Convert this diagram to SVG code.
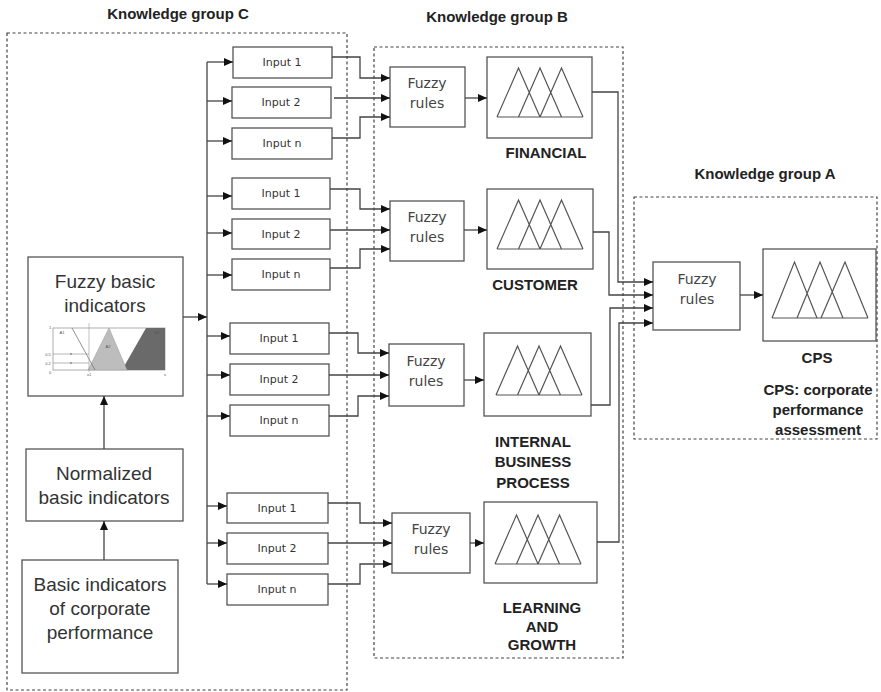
<svg xmlns="http://www.w3.org/2000/svg" width="881" height="692" viewBox="0 0 881 692">
<style>
.box{fill:#fff;stroke:#555;stroke-width:1.3}
.grp{fill:none;stroke:#444;stroke-width:1.2;stroke-dasharray:3,2.5}
.ln{fill:none;stroke:#444;stroke-width:1.3}
.arr{marker-end:url(#ah)}
.tri{fill:none;stroke:#555;stroke-width:1.2}
.title{font-family:"Liberation Sans",Arial,sans-serif;font-weight:bold;font-size:15px;fill:#222;text-anchor:middle}
.lab{font-family:"Liberation Sans",Arial,sans-serif;font-weight:bold;font-size:15px;fill:#222;text-anchor:middle}
.big{font-family:"Liberation Sans",Arial,sans-serif;font-size:19px;fill:#333;text-anchor:middle}
.inp{font-family:"DejaVu Sans",Verdana,sans-serif;font-size:11px;fill:#333;text-anchor:middle}
.fr{font-family:"DejaVu Sans",Verdana,sans-serif;font-size:14px;fill:#444;text-anchor:middle}
.tiny{font-family:"Liberation Sans",Arial,sans-serif;font-size:4px;fill:#555;text-anchor:middle}
</style>
<defs>
<marker id="ah" markerUnits="userSpaceOnUse" markerWidth="10" markerHeight="9" refX="9" refY="4" orient="auto">
<path d="M0,0 L9,4 L0,8 z" fill="#111"/>
</marker>
<path id="tris" d="M0,49 L21.5,0 L43,49 M21.5,49 L43,0 L64.5,49 M43,49 L64.5,0 L86,49 M0,49 H86" class="tri"/>
</defs>
<rect width="881" height="692" fill="#fff"/>

<!-- knowledge groups -->
<g id="group-C">
<rect class="grp" x="7" y="33" width="340" height="657"/>
<text class="title" x="178" y="19">Knowledge group C</text>
</g>
<g id="group-B">
<rect class="grp" x="374" y="47" width="249" height="611"/>
<text class="title" x="497" y="22">Knowledge group B</text>
</g>
<g id="group-A">
<rect class="grp" x="634" y="197" width="243" height="242"/>
<text class="title" x="765" y="179">Knowledge group A</text>
</g>

<!-- left column -->
<g id="basic-indicators">
<rect class="box" x="22" y="560" width="156" height="113"/>
<text class="big" x="100" y="591">Basic indicators</text>
<text class="big" x="100" y="615">of corporate</text>
<text class="big" x="100" y="639">performance</text>
</g>
<g id="normalized">
<rect class="box" x="26" y="449" width="157" height="72"/>
<text class="big" x="104" y="480">Normalized</text>
<text class="big" x="104" y="504">basic indicators</text>
</g>
<g id="fuzzy-basic">
<rect class="box" x="28" y="257" width="155" height="139"/>
<text class="big" x="105" y="288" font-size="20">Fuzzy basic</text>
<text class="big" x="105" y="312" font-size="20">indicators</text>
<rect x="53" y="328" width="112" height="42" fill="#fff" stroke="#999" stroke-width="0.8"/>
<polygon points="122,370 146,328 165,328 165,370" fill="#6a6a6a"/>
<polygon points="88,370 109,328 127,370" fill="#bdbdbd" stroke="#999" stroke-width="0.5"/>
<line x1="72" y1="328" x2="95" y2="370" stroke="#777" stroke-width="0.8"/>
<line x1="89" y1="323" x2="89" y2="372" stroke="#999" stroke-width="0.6"/>
<line x1="53" y1="354" x2="89" y2="354" stroke="#888" stroke-width="0.6"/>
<line x1="53" y1="363" x2="89" y2="363" stroke="#888" stroke-width="0.6"/>
<circle cx="71" cy="354" r="0.8" fill="#555"/>
<circle cx="71" cy="363" r="0.8" fill="#555"/>
<text class="tiny" x="62" y="334">A1</text>
<text class="tiny" x="108" y="348">A2</text>
<text class="tiny" x="157" y="334">A3</text>
<text class="tiny" x="50" y="329">1</text>
<text class="tiny" x="48" y="356">0.5</text>
<text class="tiny" x="48" y="365">0.2</text>
<text class="tiny" x="50" y="374">0</text>
<text class="tiny" x="89" y="376">x1</text>
<text class="tiny" x="165" y="376">x</text>
</g>

<!-- inputs -->
<g id="g1-input1"><rect class="box" x="233" y="47" width="99" height="31"/><text class="inp" x="282" y="66">Input 1</text></g>
<g id="g1-input2"><rect class="box" x="232" y="87" width="99" height="31"/><text class="inp" x="281" y="106">Input 2</text></g>
<g id="g1-inputn"><rect class="box" x="232" y="128" width="100" height="31"/><text class="inp" x="282" y="147">Input n</text></g>

<g id="g2-input1"><rect class="box" x="232" y="178" width="98" height="31"/><text class="inp" x="281" y="197">Input 1</text></g>
<g id="g2-input2"><rect class="box" x="232" y="219" width="98" height="30"/><text class="inp" x="281" y="238">Input 2</text></g>
<g id="g2-inputn"><rect class="box" x="232" y="259" width="98" height="31"/><text class="inp" x="281" y="278">Input n</text></g>

<g id="g3-input1"><rect class="box" x="230" y="323" width="99" height="31"/><text class="inp" x="279" y="342">Input 1</text></g>
<g id="g3-input2"><rect class="box" x="230" y="364" width="99" height="31"/><text class="inp" x="279" y="383">Input 2</text></g>
<g id="g3-inputn"><rect class="box" x="230" y="405" width="99" height="31"/><text class="inp" x="279" y="424">Input n</text></g>

<g id="g4-input1"><rect class="box" x="227" y="493" width="101" height="30"/><text class="inp" x="277" y="512">Input 1</text></g>
<g id="g4-input2"><rect class="box" x="227" y="533" width="101" height="31"/><text class="inp" x="277" y="552">Input 2</text></g>
<g id="g4-inputn"><rect class="box" x="227" y="574" width="101" height="31"/><text class="inp" x="277" y="593">Input n</text></g>

<!-- fuzzy rules B -->
<g id="g1-rules"><rect class="box" x="390" y="67" width="75" height="60"/><text class="fr" x="427" y="88">Fuzzy</text><text class="fr" x="427" y="108">rules</text></g>
<g id="g2-rules"><rect class="box" x="390" y="201" width="74" height="60"/><text class="fr" x="427" y="222">Fuzzy</text><text class="fr" x="427" y="242">rules</text></g>
<g id="g3-rules"><rect class="box" x="389" y="344" width="75" height="62"/><text class="fr" x="426" y="366">Fuzzy</text><text class="fr" x="426" y="386">rules</text></g>
<g id="g4-rules"><rect class="box" x="392" y="513" width="78" height="60"/><text class="fr" x="431" y="534">Fuzzy</text><text class="fr" x="431" y="554">rules</text></g>

<!-- membership outputs B -->
<g id="financial">
<rect class="box" x="487" y="57" width="105" height="81"/>
<use href="#tris" x="497" y="68"/>
<text class="lab" x="546" y="158">FINANCIAL</text>
</g>
<g id="customer">
<rect class="box" x="487" y="189" width="106" height="80"/>
<use href="#tris" x="497" y="200"/>
<text class="lab" x="535" y="290">CUSTOMER</text>
</g>
<g id="internal">
<rect class="box" x="484" y="333" width="107" height="83"/>
<use href="#tris" x="496" y="346"/>
<text class="lab" x="533" y="447">INTERNAL</text>
<text class="lab" x="533" y="467">BUSINESS</text>
<text class="lab" x="533" y="488">PROCESS</text>
</g>
<g id="learning">
<rect class="box" x="484" y="502" width="113" height="81"/>
<use href="#tris" x="495" y="515"/>
<text class="lab" x="542" y="613">LEARNING</text>
<text class="lab" x="542" y="632">AND</text>
<text class="lab" x="542" y="650">GROWTH</text>
</g>

<!-- group A -->
<g id="a-rules"><rect class="box" x="653" y="262" width="87" height="68"/><text class="fr" x="697" y="284">Fuzzy</text><text class="fr" x="697" y="304">rules</text></g>
<g id="cps">
<rect class="box" x="763" y="249" width="113" height="92"/>
<path class="tri" d="M772,318 L794.5,262 L817,318 M797,318 L820,262 L843,318 M821,318 L845,262 L868,318 M772,318 H868"/>
<text class="title" x="817" y="363" font-size="11">CPS</text>
<text class="title" x="818" y="395">CPS: corporate</text>
<text class="title" x="818" y="415">performance</text>
<text class="title" x="818" y="435">assessment</text>
</g>

<!-- connectors -->
<g id="connectors">
<path class="ln" d="M207,62 V584"/>
<path class="ln arr" d="M183,317 H207"/>
<path class="ln arr" d="M104,560 V521"/>
<path class="ln arr" d="M104,449 V396"/>

<path class="ln arr" d="M207,62 H233"/>
<path class="ln arr" d="M207,101 H232"/>
<path class="ln arr" d="M207,141 H232"/>
<path class="ln arr" d="M207,196 H232"/>
<path class="ln arr" d="M207,233 H232"/>
<path class="ln arr" d="M207,275 H232"/>
<path class="ln arr" d="M207,336 H230"/>
<path class="ln arr" d="M207,375 H230"/>
<path class="ln arr" d="M207,416 H230"/>
<path class="ln arr" d="M207,506 H227"/>
<path class="ln arr" d="M207,543 H227"/>
<path class="ln arr" d="M207,584 H227"/>

<path class="ln arr" d="M332,57 H360 V78 H390"/>
<path class="ln arr" d="M334,98 H390"/>
<path class="ln arr" d="M332,138 H360 V117 H390"/>
<path class="ln arr" d="M330,189 H360 V209 H390"/>
<path class="ln arr" d="M330,230 H390"/>
<path class="ln arr" d="M330,268 H360 V249 H390"/>
<path class="ln arr" d="M329,333 H358 V353 H389"/>
<path class="ln arr" d="M329,375 H389"/>
<path class="ln arr" d="M329,416 H358 V396 H389"/>
<path class="ln arr" d="M328,503 H360 V523 H392"/>
<path class="ln arr" d="M328,543 H392"/>
<path class="ln arr" d="M328,584 H360 V564 H392"/>

<path class="ln arr" d="M465,98 H487"/>
<path class="ln arr" d="M464,230 H487"/>
<path class="ln arr" d="M464,380 H484"/>
<path class="ln arr" d="M470,543 H484"/>

<path class="ln arr" d="M592,92 H618 V282 H653"/>
<path class="ln arr" d="M593,232 H609 V295 H653"/>
<path class="ln arr" d="M591,405 H610 V308 H653"/>
<path class="ln arr" d="M597,542 H619 V323 H653"/>
<path class="ln arr" d="M740,295 H763"/>
</g>
</svg>
